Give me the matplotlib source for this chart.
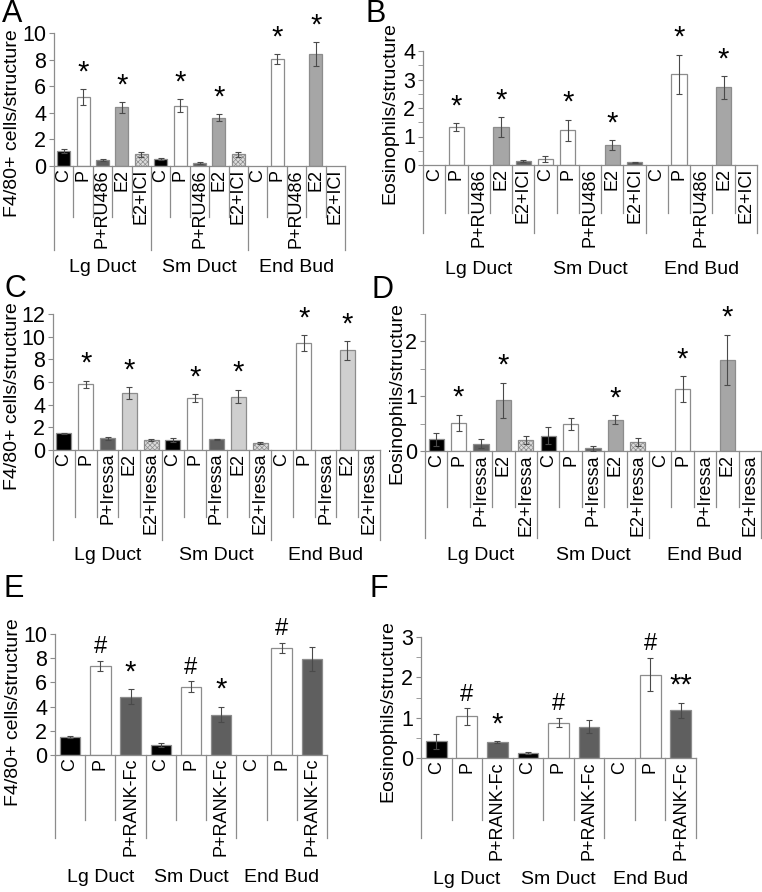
import matplotlib
matplotlib.use("Agg")
import matplotlib.pyplot as plt
from matplotlib.transforms import blended_transform_factory

plt.rcParams['font.family'] = ['Liberation Sans', 'DejaVu Sans']
plt.rcParams['hatch.linewidth'] = 0.5

W, H = 762, 892

groups = ["Lg Duct", "Sm Duct", "End Bud"]

# panel A: F4/80+ cells, RU486 / ICI
cats_a = ["C", "P", "P+RU486", "E2", "E2+ICI"]
vals_a = [1.15, 5.2, 0.43, 4.4, 0.88,
          0.55, 4.53, 0.25, 3.63, 0.88,
          0, 8.04, 0, 8.41, 0]
errs_a = [0.15, 0.6, 0.08, 0.38, 0.2,
          0.08, 0.48, 0.08, 0.26, 0.2,
          0, 0.37, 0, 0.9, 0]
marks_a = ["", "*", "", "*", "",
           "", "*", "", "*", "",
           "", "*", "", "*", ""]

# panel B: eosinophils, RU486 / ICI
cats_b = ["C", "P", "P+RU486", "E2", "E2+ICI"]
vals_b = [0, 1.32, 0, 1.32, 0.14,
          0.2, 1.22, 0, 0.7, 0.09,
          0, 3.18, 0, 2.72, 0]
errs_b = [0, 0.14, 0, 0.35, 0.05,
          0.11, 0.37, 0, 0.18, 0.02,
          0, 0.69, 0, 0.39, 0]
marks_b = ["", "*", "", "*", "",
           "", "*", "", "*", "",
           "", "*", "", "*", ""]

# panel C: F4/80+ cells, Iressa
cats_c = ["C", "P", "P+Iressa", "E2", "E2+Iressa"]
vals_c = [1.47, 5.81, 1.03, 5.01, 0.91,
          0.88, 4.57, 0.94, 4.72, 0.59,
          0, 9.44, 0, 8.79, 0]
errs_c = [0.05, 0.32, 0.15, 0.53, 0.1,
          0.15, 0.36, 0.05, 0.6, 0.1,
          0, 0.68, 0, 0.83, 0]
marks_c = ["", "*", "", "*", "",
           "", "*", "", "*", "",
           "", "*", "", "*", ""]

# panel D: eosinophils, Iressa
cats_d = ["C", "P", "P+Iressa", "E2", "E2+Iressa"]
vals_d = [0.21, 0.51, 0.13, 0.93, 0.2,
          0.28, 0.49, 0.05, 0.57, 0.16,
          0, 1.13, 0, 1.66, 0]
errs_d = [0.12, 0.15, 0.08, 0.32, 0.08,
          0.15, 0.11, 0.05, 0.08, 0.07,
          0, 0.24, 0, 0.46, 0]
marks_d = ["", "*", "", "*", "",
           "", "", "", "*", "",
           "", "*", "", "*", ""]

# panel E: F4/80+ cells, RANK-Fc
cats_e = ["C", "P", "P+RANK-Fc"]
vals_e = [1.46, 7.38, 4.83,
          0.83, 5.64, 3.34,
          0, 8.84, 7.93]
errs_e = [0.07, 0.4, 0.6,
          0.17, 0.45, 0.65,
          0, 0.42, 0.97]
marks_e = ["", "#", "*",
           "", "#", "*",
           "", "#", ""]

# panel F: eosinophils, RANK-Fc
cats_f = ["C", "P", "P+RANK-Fc"]
vals_f = [0.41, 1.03, 0.39,
          0.12, 0.88, 0.78,
          0, 2.07, 1.18]
errs_f = [0.18, 0.2, 0.02,
          0.03, 0.11, 0.15,
          0, 0.41, 0.19]
marks_f = ["", "#", "*",
           "", "#", "",
           "", "#", "**"]

BLACK, WHITE, DARK, MID, LIGHT, HATCH = "#000000", "#ffffff", "#5f5f5f", "#a6a6a6", "#cfcfcf", "#dcdcdc"
LINE = "#8c8c8c"

fig = plt.figure(figsize=(W / 100, H / 100), dpi=100)


def panel(letter, letter_xy, box, ymax, ticks, minor, ylabel, ylab_xy,
          cats, vals, errs, marks, colors, hatched, inner_len, group_len, group_y):
    x0, x1, y0, ytop = box
    ah = y0 - ytop
    aw = x1 - x0
    ax = fig.add_axes([x0 / W, 1 - y0 / H, aw / W, ah / H])
    n = len(vals)
    k = len(cats)
    xs = list(range(n))
    for i in xs:
        j = i % k
        if vals[i] <= 0:
            continue
        ax.bar(i, vals[i], width=0.68, color=colors[j], edgecolor=LINE, linewidth=0.9,
               hatch="xxxxxxx" if hatched[j] else None, zorder=2)
    ex = [i for i in xs if errs[i] > 0]
    ax.errorbar(ex, [vals[i] for i in ex], yerr=[errs[i] for i in ex], fmt="none",
                ecolor="#4a4a4a", elinewidth=0.8, capsize=2.5, capthick=0.8, zorder=3)
    for i in xs:
        if marks[i]:
            ax.annotate(marks[i], xy=(i, vals[i] + errs[i]), xytext=(0, 2),
                        textcoords="offset points", ha="center", va="bottom",
                        fontsize=21 if marks[i] != "#" else 17)
    ax.set_xlim(-0.5, n - 0.5)
    ax.set_ylim(0, ymax)
    ax.set_yticks(ticks)
    if minor:
        ax.set_yticks([t / 2 for t in range(int(ymax * 2) + 1)], minor=True)
    ax.set_xticks([])
    for s in ["top", "right"]:
        ax.spines[s].set_visible(False)
    for s in ["left", "bottom"]:
        ax.spines[s].set_color(LINE)
        ax.spines[s].set_linewidth(0.9)
    ax.tick_params(axis="y", which="both", length=3.5, color=LINE, labelsize=15.5, pad=2)
    ax.set_ylabel(ylabel, fontsize=14, va="center", ha="center")
    ax.yaxis.set_label_coords(-(x0 - ylab_xy[0]) / aw, (y0 - ylab_xy[1]) / ah)
    tr = blended_transform_factory(ax.transData, ax.transAxes)
    for b in range(n + 1):
        ln = group_len if b % k == 0 else inner_len
        ax.plot([b - 0.5, b - 0.5], [0, -ln / ah], color=LINE, lw=0.9,
                transform=tr, clip_on=False)
    for i in xs:
        ax.text(i, -3 / ah, cats[i % k], rotation=90, ha="center", va="top",
                fontsize=13, transform=tr)
    for g, name in enumerate(groups):
        ax.text(g * k + (k - 1) / 2, -(group_y - y0) / ah, name, ha="center",
                va="center", fontsize=14, transform=tr)
    fig.text(letter_xy[0] / W, 1 - letter_xy[1] / H, letter, fontsize=22,
             ha="left", va="center")
    return ax


cols5 = [BLACK, WHITE, DARK, MID, HATCH]
hat5 = [False, False, False, False, True]

panel("A", (2, 14), (54, 345, 166, 33), 10, [0, 2, 4, 6, 8, 10], False,
      "F4/80+ cells/structure", (13, 123), cats_a, vals_a, errs_a, marks_a,
      cols5, hat5, 51, 84, 268)

panel("B", (366, 14), (423, 757, 165, 51), 4, [0, 1, 2, 3, 4], True,
      "Eosinophils/structure", (390, 113), cats_b, vals_b, errs_b, marks_b,
      [WHITE, WHITE, DARK, MID, DARK], [False] * 5, 48, 68, 270)

panel("C", (4, 289), (53, 380, 450, 314), 12, [0, 2, 4, 6, 8, 10, 12], False,
      "F4/80+ cells/structure", (12, 396), cats_c, vals_c, errs_c, marks_c,
      [BLACK, WHITE, DARK, LIGHT, HATCH], hat5, 67, 90, 555)

panel("D", (372, 290), (425, 761, 451, 314), 2.5, [0, 1, 2], True,
      "Eosinophils/structure", (397, 393), cats_d, vals_d, errs_d, marks_d,
      cols5, hat5, 56, 87, 556)

panel("E", (4, 589), (55, 327, 755, 634), 10, [0, 2, 4, 6, 8, 10], False,
      "F4/80+ cells/structure", (13, 712), cats_e, vals_e, errs_e, marks_e,
      [BLACK, WHITE, DARK], [False] * 3, 65, 83, 878)

panel("F", (370, 589), (421, 696, 758, 637), 3, [0, 1, 2, 3], True,
      "Eosinophils/structure", (388, 711), cats_f, vals_f, errs_f, marks_f,
      [BLACK, WHITE, DARK], [False] * 3, 62, 80, 880)

fig.savefig("out.png", dpi=100)
